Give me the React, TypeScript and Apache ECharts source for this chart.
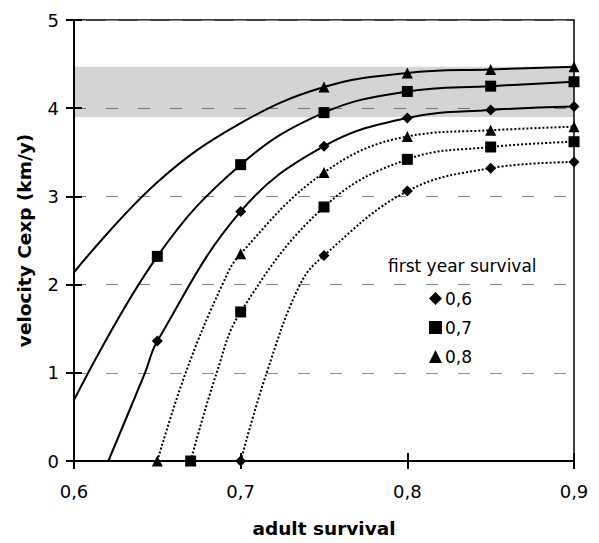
import React, { useEffect, useRef } from "react";
import * as echarts from "echarts";

// adult survival (x) vs velocity Cexp (y); curve points, markers shown at markerX
const solid06: number[][] = [[0.6206, 0], [0.6426, 1], [0.65, 1.36], [0.7, 2.83], [0.75, 3.57], [0.8, 3.89], [0.85, 3.98], [0.9, 4.02]];
const solid07: number[][] = [[0.6, 0.69], [0.65, 2.32], [0.7, 3.36], [0.75, 3.95], [0.8, 4.19], [0.85, 4.25], [0.9, 4.3]];
const solid08: number[][] = [[0.6, 2.14], [0.65, 3.16], [0.7, 3.83], [0.75, 4.24], [0.8, 4.4], [0.85, 4.44], [0.9, 4.47]];
const dotted06: number[][] = [[0.7, 0], [0.7156, 1], [0.7356, 2], [0.75, 2.33], [0.8, 3.06], [0.85, 3.32], [0.9, 3.39]];
const dotted07: number[][] = [[0.67, 0], [0.6856, 1], [0.7, 1.69], [0.75, 2.88], [0.8, 3.42], [0.85, 3.56], [0.9, 3.62]];
const dotted08: number[][] = [[0.65, 0], [0.667, 1], [0.689, 2], [0.7, 2.35], [0.75, 3.27], [0.8, 3.68], [0.85, 3.75], [0.9, 3.79]];

const markers06Solid = [0.65, 0.7, 0.75, 0.8, 0.85, 0.9];
const markers07Solid = [0.65, 0.7, 0.75, 0.8, 0.85, 0.9];
const markers08Solid = [0.75, 0.8, 0.85, 0.9];
const markers06Dotted = [0.7, 0.75, 0.8, 0.85, 0.9];
const markers07Dotted = [0.67, 0.7, 0.75, 0.8, 0.85, 0.9];
const markers08Dotted = [0.65, 0.7, 0.75, 0.8, 0.85, 0.9];

const band = [3.9, 4.47];
const xTicks = { min: 0.6, max: 0.9, interval: 0.1 };
const yTicks = { min: 0, max: 5, interval: 1 };
const legendNames = ["0,6", "0,7", "0,8"];

const FONT = "'DejaVu Sans', sans-serif";

function buildData(points: number[][], markers: number[], symbol: string, size: number) {
  return points.map((p) => {
    const has = markers.some((m) => Math.abs(m - p[0]) < 1e-6);
    return { value: p, symbol: has ? symbol : "none", symbolSize: size };
  });
}

export default function App() {
  const ref = useRef<HTMLDivElement>(null);
  useEffect(() => {
    if (!ref.current) return;
    const chart = echarts.init(ref.current, undefined, { renderer: "svg" });
    const mk = (name: string, pts: number[][], markers: number[], symbol: string, size: number, dotted: boolean, extra: any = {}) => ({
      type: "line",
      name,
      smooth: 0.4,
      clip: false,
      data: buildData(pts, markers, symbol, size),
      showSymbol: true,
      lineStyle: { color: "#000", width: 2, type: dotted ? [2, 2] : "solid" },
      itemStyle: { color: "#000" },
      ...extra,
    });
    const xFmt = (v: number) => v.toFixed(1).replace(".", ",");
    const axisBase = {
      axisLine: { show: true, lineStyle: { color: "#000", width: 2 } },
    };
    chart.setOption({
      animation: false,
      backgroundColor: "#fff",
      grid: { left: 74, right: 25, top: 20, bottom: 79, show: true, borderColor: "#000", borderWidth: 1.5, backgroundColor: "transparent" },
      legend: {
        orient: "vertical",
        left: 429,
        top: 290,
        padding: 0,
        itemGap: 12,
        itemWidth: 13,
        itemHeight: 13,
        textStyle: { fontFamily: FONT, fontSize: 17, color: "#000", padding: [0, 0, 0, -2] },
        data: [
          { name: legendNames[0], icon: "diamond" },
          { name: legendNames[1], icon: "rect" },
          { name: legendNames[2], icon: "triangle" },
        ],
        selectedMode: false,
      },
      graphic: [
        {
          type: "text",
          left: 388,
          top: 257,
          style: { text: "first year survival", font: `17px ${FONT}`, fill: "#000" },
        },
      ],
      xAxis: [
        {
          type: "value",
          ...xTicks,
          ...axisBase,
          name: "adult survival",
          nameLocation: "middle",
          nameGap: 58,
          nameTextStyle: { fontFamily: FONT, fontSize: 18.5, fontWeight: "bold", color: "#000" },
          axisTick: { show: true, length: 8, lineStyle: { color: "#000", width: 2 } },
          axisLabel: { formatter: xFmt, margin: 21, fontFamily: FONT, fontSize: 18, color: "#000" },
          splitLine: { show: false },
        },
        {
          type: "value",
          ...xTicks,
          position: "bottom",
          axisLine: { show: false },
          axisTick: { show: true, inside: true, length: 8, lineStyle: { color: "#000", width: 2 } },
          axisLabel: { show: false },
          splitLine: { show: false },
        },
      ],
      yAxis: [
        {
          type: "value",
          ...yTicks,
          ...axisBase,
          name: "velocity Cexp (km/y)",
          nameLocation: "middle",
          nameGap: 40,
          nameTextStyle: { fontFamily: FONT, fontSize: 18.5, fontWeight: "bold", color: "#000" },
          axisTick: { show: true, length: 8, lineStyle: { color: "#000", width: 2 } },
          axisLabel: { margin: 15, fontFamily: FONT, fontSize: 18, color: "#000" },
          splitLine: { show: true, lineStyle: { color: "#8a8a8a", width: 1, type: [12, 20] } },
        },
        {
          type: "value",
          ...yTicks,
          position: "left",
          axisLine: { show: false },
          axisTick: { show: true, inside: true, length: 8, lineStyle: { color: "#000", width: 2 } },
          axisLabel: { show: false },
          splitLine: { show: false },
        },
      ],
      series: [
        mk(legendNames[0], solid06, markers06Solid, "diamond", 11, false, {
          markArea: {
            silent: true,
            itemStyle: { color: "rgba(0,0,0,0.17)" },
            data: [[{ yAxis: band[0] }, { yAxis: band[1] }]],
          },
        }),
        mk(legendNames[1], solid07, markers07Solid, "rect", 11, false),
        mk(legendNames[2], solid08, markers08Solid, "triangle", 11, false),
        mk(legendNames[0], dotted06, markers06Dotted, "diamond", 11, true),
        mk(legendNames[1], dotted07, markers07Dotted, "rect", 11, true),
        mk(legendNames[2], dotted08, markers08Dotted, "triangle", 11, true),
      ],
    });
    return () => chart.dispose();
  }, []);
  return <div ref={ref} style={{ width: 599, height: 543, position: "absolute", left: 0, top: 0 }} />;
}
